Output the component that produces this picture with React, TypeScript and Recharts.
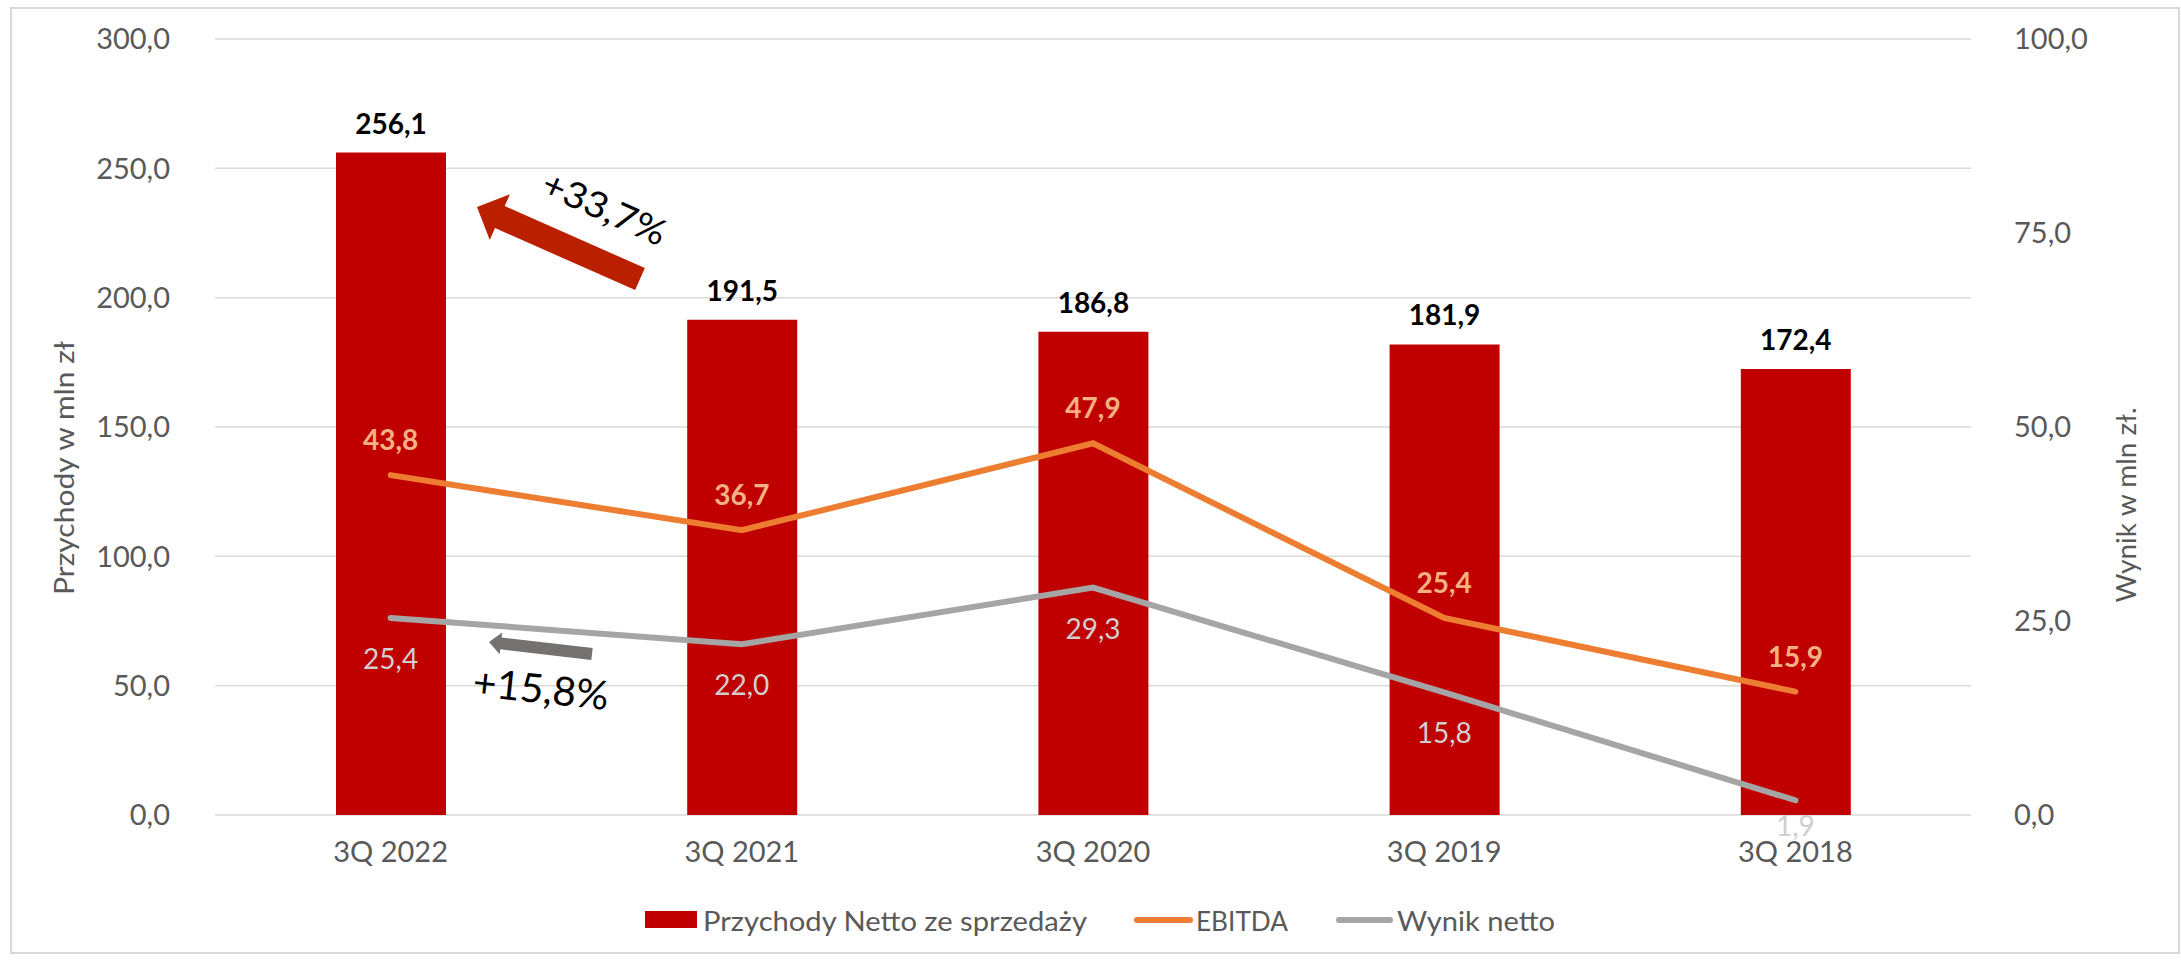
import React from "react";
import { Bar, CartesianGrid, ComposedChart, Line, XAxis, YAxis } from "recharts";

const categories = ["3Q 2022", "3Q 2021", "3Q 2020", "3Q 2019", "3Q 2018"];
const revenue = [256.1, 191.5, 186.8, 181.9, 172.4];
const ebitda = [43.8, 36.7, 47.9, 25.4, 15.9];
const netResult = [25.4, 22.0, 29.3, 15.8, 1.9];
const leftTicks = [0, 50, 100, 150, 200, 250, 300];
const rightTicks = [0, 25, 50, 75, 100];

// label nudges (px below the point) for the net result labels
const netLabelDy = [40, 40, 40, 40, 25];

const FONT = "Lato, 'Open Sans', sans-serif";
const fmt = (v: number) => v.toFixed(1).replace(".", ",");

const chartData = categories.map((name, i) => ({
  name,
  revenue: revenue[i],
  ebitda: ebitda[i],
  net: netResult[i]
}));

type Pt = { x: number; y: number };

const arrowPoints = (tail: Pt, tip: Pt, w: number, hw: number, hl: number) => {
  const dx = tip.x - tail.x;
  const dy = tip.y - tail.y;
  const len = Math.hypot(dx, dy);
  const ux = dx / len;
  const uy = dy / len;
  const nx = -uy;
  const ny = ux;
  const bx = tip.x - ux * hl;
  const by = tip.y - uy * hl;
  const pts = [
    [tail.x + (nx * w) / 2, tail.y + (ny * w) / 2],
    [bx + (nx * w) / 2, by + (ny * w) / 2],
    [bx + (nx * hw) / 2, by + (ny * hw) / 2],
    [tip.x, tip.y],
    [bx - (nx * hw) / 2, by - (ny * hw) / 2],
    [bx - (nx * w) / 2, by - (ny * w) / 2],
    [tail.x - (nx * w) / 2, tail.y - (ny * w) / 2]
  ];
  return pts.map((p) => p.join(",")).join(" ");
};

const BarValueLabel = (props: any) => {
  const { x, y, width, value } = props;
  return (
    <text
      x={x + width / 2}
      y={y - 30}
      textAnchor="middle"
      dominantBaseline="central"
      fontFamily={FONT}
      fontSize={28}
      fontWeight={700}
      fill="#000000"
    >
      {fmt(value)}
    </text>
  );
};

const EbitdaLabel = (props: any) => {
  const { x, y, value } = props;
  return (
    <text
      x={x}
      y={y - 36}
      textAnchor="middle"
      dominantBaseline="central"
      fontFamily={FONT}
      fontSize={28}
      fontWeight={700}
      fill="#F4B183"
    >
      {fmt(value)}
    </text>
  );
};

const NetLabel = (props: any) => {
  const { x, y, value, index } = props;
  return (
    <text
      x={x}
      y={y + (netLabelDy[index] ?? 40)}
      textAnchor="middle"
      dominantBaseline="central"
      fontFamily={FONT}
      fontSize={28}
      fill="#CFCFCF"
    >
      {fmt(value)}
    </text>
  );
};

const tickStyle = { fill: "#595959", fontSize: 29, fontFamily: FONT };

export default function App() {
  return (
    <div style={{ position: "absolute", left: 0, top: 0, width: 2181, height: 960, background: "#fff" }}>
      <div
        style={{
          position: "absolute",
          left: 10,
          top: 7,
          width: 2170,
          height: 947,
          border: "2px solid #D9D9D9",
          boxSizing: "border-box"
        }}
      />
      <div style={{ position: "absolute", left: 0, top: 0 }}>
        <ComposedChart width={2181} height={960} data={chartData} margin={{ top: 39, right: 0, left: 0, bottom: 85 }}>
          <CartesianGrid vertical={false} yAxisId="left" stroke="#D9D9D9" strokeWidth={1.5} />
          <XAxis
            dataKey="name"
            axisLine={false}
            tickLine={false}
            tickSize={0}
            tickMargin={26}
            height={60}
            tick={tickStyle}
          />
          <YAxis
            yAxisId="left"
            domain={[0, 300]}
            ticks={leftTicks}
            tickFormatter={fmt}
            axisLine={false}
            tickLine={false}
            tickSize={0}
            tickMargin={45}
            width={215}
            tick={tickStyle}
          />
          <YAxis
            yAxisId="right"
            orientation="right"
            domain={[0, 100]}
            ticks={rightTicks}
            tickFormatter={fmt}
            axisLine={false}
            tickLine={false}
            tickSize={0}
            tickMargin={43}
            width={210}
            tick={{ ...tickStyle, textAnchor: "start" }}
          />
          <Bar
            yAxisId="left"
            dataKey="revenue"
            fill="#C00000"
            barSize={110}
            isAnimationActive={false}
            label={BarValueLabel}
          />
          <Line
            yAxisId="right"
            type="linear"
            dataKey="ebitda"
            stroke="#ED7D31"
            strokeWidth={6}
            strokeLinecap="round"
            dot={false}
            activeDot={false}
            isAnimationActive={false}
            label={EbitdaLabel}
          />
          <Line
            yAxisId="right"
            type="linear"
            dataKey="net"
            stroke="#A5A5A5"
            strokeWidth={6}
            strokeLinecap="round"
            dot={false}
            activeDot={false}
            isAnimationActive={false}
            label={NetLabel}
          />
        </ComposedChart>
      </div>
      <svg
        width={2181}
        height={960}
        style={{ position: "absolute", left: 0, top: 0, pointerEvents: "none" }}
      >
        {/* axis titles */}
        <text
          transform="translate(63,468) rotate(-90)"
          textAnchor="middle"
          dominantBaseline="central"
          fontFamily={FONT}
          fontSize={27}
          fill="#595959"
          textLength={254}
          lengthAdjust="spacingAndGlyphs"
        >
          Przychody w mln zł
        </text>
        <text
          transform="translate(2125,505) rotate(-90)"
          textAnchor="middle"
          dominantBaseline="central"
          fontFamily={FONT}
          fontSize={27}
          fill="#595959"
          textLength={195}
          lengthAdjust="spacingAndGlyphs"
        >
          Wynik w mln zł.
        </text>

        {/* growth annotations */}
        <polygon
          points={arrowPoints({ x: 640, y: 279 }, { x: 477, y: 207 }, 24, 50, 25)}
          fill="#BA2000"
        />
        <text
          transform="translate(605,207) rotate(24)"
          textAnchor="middle"
          dominantBaseline="central"
          fontFamily={FONT}
          fontSize={36}
          fill="#000"
          textLength={132}
          lengthAdjust="spacingAndGlyphs"
        >
          +33,7%
        </text>
        <polygon
          points={arrowPoints({ x: 592, y: 654 }, { x: 489, y: 642 }, 12, 22, 12)}
          fill="#767171"
        />
        <text
          transform="translate(541,688) rotate(6)"
          textAnchor="middle"
          dominantBaseline="central"
          fontFamily={FONT}
          fontSize={40}
          fill="#000"
          textLength={136}
          lengthAdjust="spacingAndGlyphs"
        >
          +15,8%
        </text>

        {/* legend */}
        <rect x={645} y={911} width={52} height={17} fill="#C00000" />
        <text x={703} y={920} dominantBaseline="central" fontFamily={FONT} fontSize={27} fill="#595959" textLength={384} lengthAdjust="spacingAndGlyphs">
          Przychody Netto ze sprzedaży
        </text>
        <line x1={1137} y1={920} x2={1190} y2={920} stroke="#ED7D31" strokeWidth={6} strokeLinecap="round" />
        <text x={1196} y={920} dominantBaseline="central" fontFamily={FONT} fontSize={27} fill="#595959" textLength={92} lengthAdjust="spacingAndGlyphs">
          EBITDA
        </text>
        <line x1={1339} y1={920} x2={1390} y2={920} stroke="#A5A5A5" strokeWidth={6} strokeLinecap="round" />
        <text x={1397} y={920} dominantBaseline="central" fontFamily={FONT} fontSize={27} fill="#595959" textLength={158} lengthAdjust="spacingAndGlyphs">
          Wynik netto
        </text>
      </svg>
    </div>
  );
}
